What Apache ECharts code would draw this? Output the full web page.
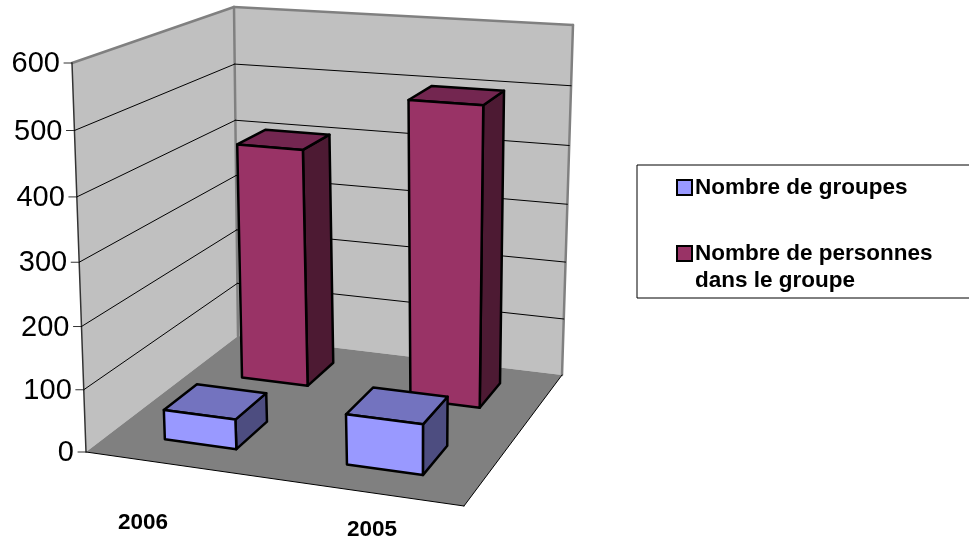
<!DOCTYPE html>
<html>
<head>
<meta charset="utf-8">
<style>html,body{margin:0;padding:0;background:#fff}#chart{width:969px;height:540px}</style>
<script src="https://cdn.jsdelivr.net/npm/echarts@6/dist/echarts.min.js"></script>
</head>
<body>
<div id="chart"></div>
<script>
const categories = ['2006', '2005']
const nbGroupes = [48, 80]
const nbPersonnes = [405, 500]
const yTicks = [0, 100, 200, 300, 400, 500, 600]

// coins de la boite 3D : avant-gauche, avant-droit, arriere-droit, arriere-gauche
const floorQuad = [[86, 452], [464, 506], [562, 375], [238, 336]]
const topQuad = [[72, 63], [472, 96], [573, 25], [234, 7]]
const gridBox = { left: 72, top: 63, width: 400, height: 389 }
const labelFont = '29px "Liberation Sans", Arial, sans-serif'
const catFont = 'bold 22.5px "Liberation Sans", Arial, sans-serif'

function homography (q) {
  const [p0, p1, p2, p3] = q
  const dx1 = p1[0] - p2[0]; const dx2 = p3[0] - p2[0]; const sx = p0[0] - p1[0] + p2[0] - p3[0]
  const dy1 = p1[1] - p2[1]; const dy2 = p3[1] - p2[1]; const sy = p0[1] - p1[1] + p2[1] - p3[1]
  const den = dx1 * dy2 - dx2 * dy1
  const g = (sx * dy2 - dx2 * sy) / den
  const h = (dx1 * sy - sx * dy1) / den
  const a = p1[0] - p0[0] + g * p1[0]; const b = p3[0] - p0[0] + h * p3[0]
  const d = p1[1] - p0[1] + g * p1[1]; const e = p3[1] - p0[1] + h * p3[1]
  return (u, v) => {
    const w = g * u + h * v + 1
    return [(a * u + b * v + p0[0]) / w, (d * u + e * v + p0[1]) / w]
  }
}
const floorAt = homography(floorQuad)
const topAt = homography(topQuad)

// u : largeur, v : profondeur, w : hauteur (0..1)
function project (u, v, w) {
  const f = w / (w + (1 - w) * 1.05)
  const b = floorAt(u, v)
  const t = topAt(u, v)
  return [b[0] + (t[0] - b[0]) * f, b[1] + (t[1] - b[1]) * f]
}
function toU (x) { return (x - gridBox.left) / gridBox.width }
function toW (y) { return (gridBox.top + gridBox.height - y) / gridBox.height }

function poly (points, fill, stroke, lineWidth) {
  return {
    type: 'polygon',
    shape: { points },
    style: { fill, stroke: stroke || 'none', lineWidth: lineWidth || 0, lineJoin: 'round' }
  }
}
function line (a, b, stroke, lineWidth) {
  return {
    type: 'line',
    shape: { x1: a[0], y1: a[1], x2: b[0], y2: b[1] },
    style: { stroke, lineWidth, lineCap: 'round' }
  }
}

// une barre 3D, dessinee a partir des echelles de l'axe
function barRenderer (v0, v1, halfWidth, shift, front, top, side) {
  return function (params, api) {
    const c = api.coord([api.value(0), api.value(1)])
    const band = api.size([1, 0])[0]
    const u0 = toU(c[0] - band * halfWidth) + shift
    const u1 = toU(c[0] + band * halfWidth) + shift
    const w = toW(c[1])
    const A = project(u0, v0, 0); const B = project(u1, v0, 0)
    const C = project(u1, v1, 0)
    const D = project(u0, v0, w); const E = project(u1, v0, w)
    const F = project(u1, v1, w); const G = project(u0, v1, w)
    return {
      type: 'group',
      children: [
        poly([B, C, F, E], side, '#000', 2.5),
        poly([D, E, F, G], top, '#000', 2.5),
        poly([A, B, E, D], front, '#000', 2.5)
      ]
    }
  }
}

function renderBox () {
  const c00 = project(0, 0, 0); const c01 = project(0, 1, 0)
  const c11 = project(1, 1, 0); const c10 = project(1, 0, 0)
  const t00 = project(0, 0, 1); const t01 = project(0, 1, 1); const t11 = project(1, 1, 1)
  return {
    type: 'group',
    children: [
      poly([c00, c01, t01, t00], '#C0C0C0'),
      poly([c01, c11, t11, t01], '#C0C0C0'),
      poly([c00, c10, c11, c01], '#808080'),
      line(t00, t01, '#808080', 2.5),
      line(t01, t11, '#808080', 2.5),
      line(t11, c11, '#808080', 2.5),
      line(t01, c01, '#808080', 2.5),
      line(c00, t00, '#333', 1.5),
      line(c00, c10, '#000', 1),
      line(c10, c11, '#000', 1)
    ]
  }
}

function renderTick (params, api) {
  const y = api.coord([0, api.value(0)])[1]
  const w = toW(y)
  const a = project(0, 0, w); const b = project(0, 1, w); const c = project(1, 1, w)
  const children = [
    line([a[0] - 8, a[1]], a, '#333', 1),
    {
      type: 'text',
      style: {
        text: String(api.value(0)),
        x: a[0] - 12,
        y: a[1] + 1,
        align: 'right',
        verticalAlign: 'middle',
        fill: '#000',
        font: labelFont
      }
    }
  ]
  if (api.value(0) > 0 && api.value(0) < 600) {
    children.push(line(a, b, '#000', 1), line(b, c, '#000', 1))
  }
  return { type: 'group', children }
}

// libelles des annees, le long du bord avant
function renderCategory (params, api) {
  const x = api.coord([params.dataIndex, 0])[0]
  const u = toU(x)
  return {
    type: 'text',
    style: {
      text: categories[params.dataIndex],
      x: 143 + (u - 0.25) * 458,
      y: 523 + (u - 0.25) * 14,
      align: 'center',
      verticalAlign: 'middle',
      fill: '#000',
      font: catFont
    }
  }
}

const chart = echarts.init(document.getElementById('chart'))
chart.setOption({
  animation: false,
  backgroundColor: '#fff',
  grid: gridBox,
  xAxis: { type: 'category', data: categories, show: false },
  yAxis: { type: 'value', min: 0, max: 600, interval: 100, show: false },
  legend: {
    left: 637,
    top: 165,
    orient: 'vertical',
    align: 'left',
    selectedMode: false,
    data: ['Nombre de groupes', 'Nombre de personnes dans le groupe'],
    icon: 'rect',
    itemWidth: 15,
    itemHeight: 15,
    itemGap: 12,
    padding: [9, 60, 4, 39],
    backgroundColor: '#fff',
    borderColor: '#000',
    borderWidth: 1,
    itemStyle: { borderColor: '#000', borderWidth: 2 },
    formatter: function (name) {
      return name === 'Nombre de groupes' ? name : '\nNombre de personnes\ndans le groupe'
    },
    textStyle: {
      color: '#000',
      fontFamily: '"Liberation Sans", Arial, sans-serif',
      fontWeight: 'bold',
      fontSize: 22.5,
      lineHeight: 27,
      padding: [0, 0, 0, -2]
    }
  },
  series: [
    {
      type: 'custom', name: 'cadre', silent: true, z: 1, clip: false,
      data: [[0, 0]], renderItem: renderBox
    },
    {
      type: 'custom', name: 'graduations', silent: true, z: 2, clip: false,
      data: yTicks.map(v => [v]), encode: { y: 0 }, renderItem: renderTick
    },
    {
      type: 'custom', name: 'annees', silent: true, z: 2, clip: false,
      data: categories.map((c, i) => [i]), encode: { x: 0 }, renderItem: renderCategory
    },
    {
      type: 'custom', name: 'Nombre de personnes dans le groupe', silent: true, z: 3, clip: false,
      itemStyle: { color: '#993366' },
      data: nbPersonnes.map((v, i) => [i, v]), encode: { x: 0, y: 1 },
      renderItem: barRenderer(0.66, 0.87, 0.198, 0.003, '#993366', '#732650', '#4D1A33')
    },
    {
      type: 'custom', name: 'Nombre de groupes', silent: true, z: 4, clip: false,
      itemStyle: { color: '#9999FF' },
      data: nbGroupes.map((v, i) => [i, v]), encode: { x: 0, y: 1 },
      renderItem: barRenderer(0.15, 0.36, 0.2, 0, '#9999FF', '#7373BF', '#4D4D80')
    }
  ]
})
</script>
</body>
</html>
